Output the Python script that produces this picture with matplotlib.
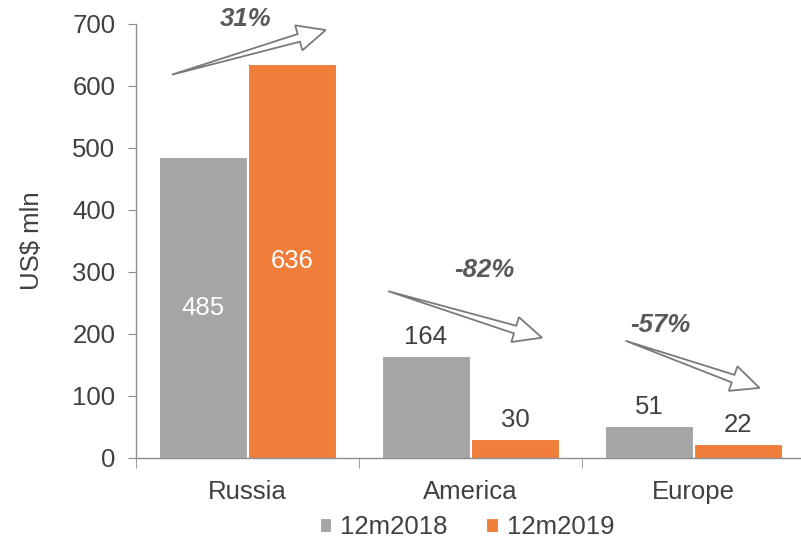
import matplotlib.pyplot as plt
from matplotlib.patches import Polygon
import numpy as np

regions = ["Russia", "America", "Europe"]
series = ["12m2018", "12m2019"]
v2018 = [485, 164, 51]
v2019 = [636, 30, 22]
changes = ["31%", "-82%", "-57%"]

plt.rcParams['font.family'] = ['Liberation Sans', 'DejaVu Sans']

GRAY = "#A5A5A5"
ORANGE = "#F07D3A"
TXT = "#404040"
AX = "#8C8C8C"
FS = 18.5

fig = plt.figure(figsize=(8.01, 5.42), dpi=100)
ax = fig.add_axes([0.17, 0.155, 0.835, 0.801])
ax.set_xlim(-0.5, 2.5)
ax.set_ylim(0, 700)

x = np.arange(len(regions))
w = 0.395
b1 = ax.bar(x - 0.2, v2018, w, color=GRAY, edgecolor="white", linewidth=0.8, label=series[0])
b2 = ax.bar(x + 0.2, v2019, w, color=ORANGE, edgecolor="white", linewidth=0.8, label=series[1])

# value labels: inside for Russia, above for the rest
for bars in (b1, b2):
    for i, r in enumerate(bars):
        h = r.get_height()
        cx = r.get_x() + r.get_width() / 2
        if i == 0:
            ax.text(cx, h / 2, str(h), ha="center", va="center", color="white", fontsize=FS)
        else:
            ax.annotate(str(h), (cx, h), xytext=(0, 5), textcoords="offset points",
                        ha="center", va="bottom", color=TXT, fontsize=FS)


def hollow_arrow(p0, p1, hl=28, hw=26, sw=8):
    # outline arrow built in pixel space from two data points
    a = ax.transData.transform(p0)
    b = ax.transData.transform(p1)
    d = b - a
    L = np.hypot(*d)
    u = d / L
    n = np.array([-u[1], u[0]])
    base = b - u * hl
    pts = [a, base + n * sw / 2, base + n * hw / 2, b,
           base - n * hw / 2, base - n * sw / 2]
    pts = [ax.transData.inverted().transform(p) for p in pts]
    ax.add_patch(Polygon(pts, closed=True, facecolor="white", edgecolor="#7A7A7A",
                         linewidth=1.3, clip_on=False, zorder=5))


arrows = [((-0.34, 618), (0.35, 690)),
          ((0.63, 269), (1.32, 194)),
          ((1.695, 189), (2.296, 113))]
for p0, p1 in arrows:
    hollow_arrow(p0, p1)

label_pos = [(-0.01, 708), (1.06, 303), (1.85, 214)]
for (lx, ly), t in zip(label_pos, changes):
    ax.text(lx, ly, t, ha="center", va="center", fontsize=FS, fontweight="bold",
            fontstyle="italic", color="#595959", clip_on=False)

ax.set_yticks(np.arange(0, 701, 100))
ax.set_xticks(x)
ax.set_xticklabels(regions)
ax.set_xticks([-0.5, 0.5, 1.5, 2.5], minor=True)
ax.tick_params(axis="x", which="major", length=0, pad=16, labelsize=FS, labelcolor=TXT)
ax.tick_params(axis="x", which="minor", length=7, color=AX, direction="out")
ax.tick_params(axis="y", length=6, color=AX, labelsize=FS, labelcolor=TXT, pad=9)
ax.set_ylabel("US$ mln", fontsize=FS, color=TXT, labelpad=20)

for s in ("top", "right"):
    ax.spines[s].set_visible(False)
for s in ("left", "bottom"):
    ax.spines[s].set_color(AX)
    ax.spines[s].set_linewidth(1)

fig.legend(loc="center", bbox_to_anchor=(0.583, 0.028), ncol=2, frameon=False,
           fontsize=FS, handlelength=0.45, handleheight=0.45, handletextpad=0.35,
           columnspacing=1.5, labelcolor=TXT)

fig.savefig("out.png", dpi=100)
